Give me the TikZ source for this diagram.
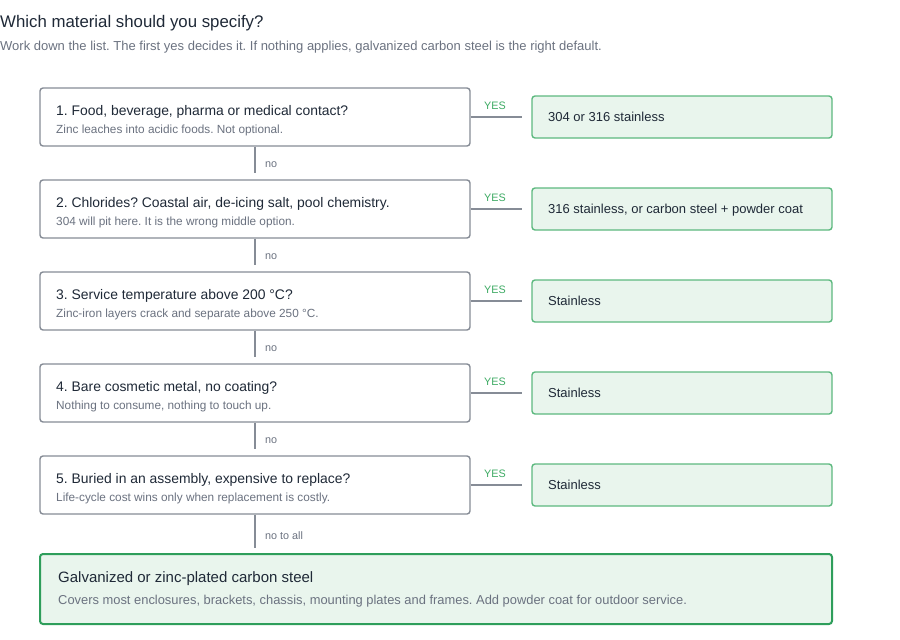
\documentclass[tikz,border=0pt]{standalone}
\usepackage{fontspec}
\setmainfont{Liberation Sans}
\usepackage{tikz}
\usetikzlibrary{positioning}
\frenchspacing

\definecolor{ink}{HTML}{1F2937}
\definecolor{mute}{HTML}{6B7280}
\definecolor{edge}{HTML}{868C96}
\definecolor{leaf}{HTML}{5DB97F}
\definecolor{leaffill}{HTML}{E9F5ED}
\definecolor{deep}{HTML}{2E9E5B}
\definecolor{yesgreen}{HTML}{3DAA63}

\tikzset{
    qbox/.style={draw=edge, line width=1.4pt, rounded corners=3pt, fill=white,
        minimum width=430pt, minimum height=58pt, inner sep=0pt},
    abox/.style={draw=leaf, line width=1.4pt, rounded corners=3pt, fill=leaffill,
        minimum width=300pt, minimum height=42pt, inner sep=0pt},
    fbox/.style={draw=deep, line width=2pt, rounded corners=3pt, fill=leaffill,
        minimum width=792pt, minimum height=70pt, inner sep=0pt},
    link/.style={draw=edge, line width=1.4pt},
    qtitle/.style={anchor=base west, inner sep=0pt, text=ink, font=\fontsize{13.9}{16}\selectfont},
    qsub/.style={anchor=base west, inner sep=0pt, text=mute, font=\fontsize{11.8}{14}\selectfont},
    atext/.style={anchor=base west, inner sep=0pt, text=ink, font=\fontsize{13}{15}\selectfont},
    yeslbl/.style={inner sep=0pt, text=yesgreen, font=\fontsize{10.8}{12}\selectfont},
    nolbl/.style={anchor=base west, inner sep=0pt, text=mute, font=\fontsize{10.8}{12}\selectfont}
}

\begin{document}
\begin{tikzpicture}[x=1pt,y=-1pt]
        \useasboundingbox (0,0) rectangle (900,640);

        % Heading
        \node[anchor=base west, inner sep=0pt, text=ink, font=\fontsize{16.8}{20}\selectfont]
            (head) at (0,27) {Which material should you specify?};
        \node[anchor=base west, inner sep=0pt, text=mute, font=\fontsize{13}{15}\selectfont]
            (lead) at (0,50) {Work down the list. The first yes decides it. If nothing applies, galvanized carbon steel is the right default.};

        % Questions and their answers
        \foreach \i/\qt/\qs/\ans in {
            1/{1. Food, beverage, pharma or medical contact?}/{Zinc leaches into acidic foods. Not optional.}/{304 or 316 stainless},
            2/{2. Chlorides? Coastal air, de-icing salt, pool chemistry.}/{304 will pit here. It is the wrong middle option.}/{316 stainless, or carbon steel + powder coat},
            3/{3. Service temperature above 200 °C?}/{Zinc-iron layers crack and separate above 250 °C.}/{Stainless},
            4/{4. Bare cosmetic metal, no coating?}/{Nothing to consume, nothing to touch up.}/{Stainless},
            5/{5. Buried in an assembly, expensive to replace?}/{Life-cycle cost wins only when replacement is costly.}/{Stainless}} {
            \pgfmathsetmacro\yy{117+92*(\i-1)}
            \node[qbox] (q\i) at (255,\yy) {};
            \node[qtitle] (qt\i) at (56,{\yy-2}) {\qt};
            \node[qsub] (qs\i) at (56,{\yy+16}) {\qs};

            % yes branch
            \node[abox] (a\i) at (682,\yy) {};
            \node[atext] (at\i) at (548,{\yy+4.5}) {\ans};
            \coordinate (y\i) at (522,\yy);
            \draw[link] (q\i.east) -- (y\i);
            \node[yeslbl] (yl\i) at (495,{\yy-11}) {YES};

            % no branch
            \ifnum\i<5
                \coordinate (n\i) at (255,{\yy+56});
                \draw[link] (q\i.south) -- (n\i);
                \node[nolbl] (nl\i) at (265,{\yy+50}) {no};
            \fi
        }

        % Default
        \node[fbox] (fin) at (436,589) {};
        \node[anchor=base west, inner sep=0pt, text=ink, font=\fontsize{15}{17}\selectfont]
            (fint) at (58,582) {Galvanized or zinc-plated carbon steel};
        \node[anchor=base west, inner sep=0pt, text=mute, font=\fontsize{12.9}{15}\selectfont]
            (fins) at (58,604) {Covers most enclosures, brackets, chassis, mounting plates and frames. Add powder coat for outdoor service.};
        \coordinate (n5) at (255,548);
        \draw[link] (q5.south) -- (n5);
        \node[nolbl] (nl5) at (265,539) {no to all};
    \end{tikzpicture}
\end{document}
